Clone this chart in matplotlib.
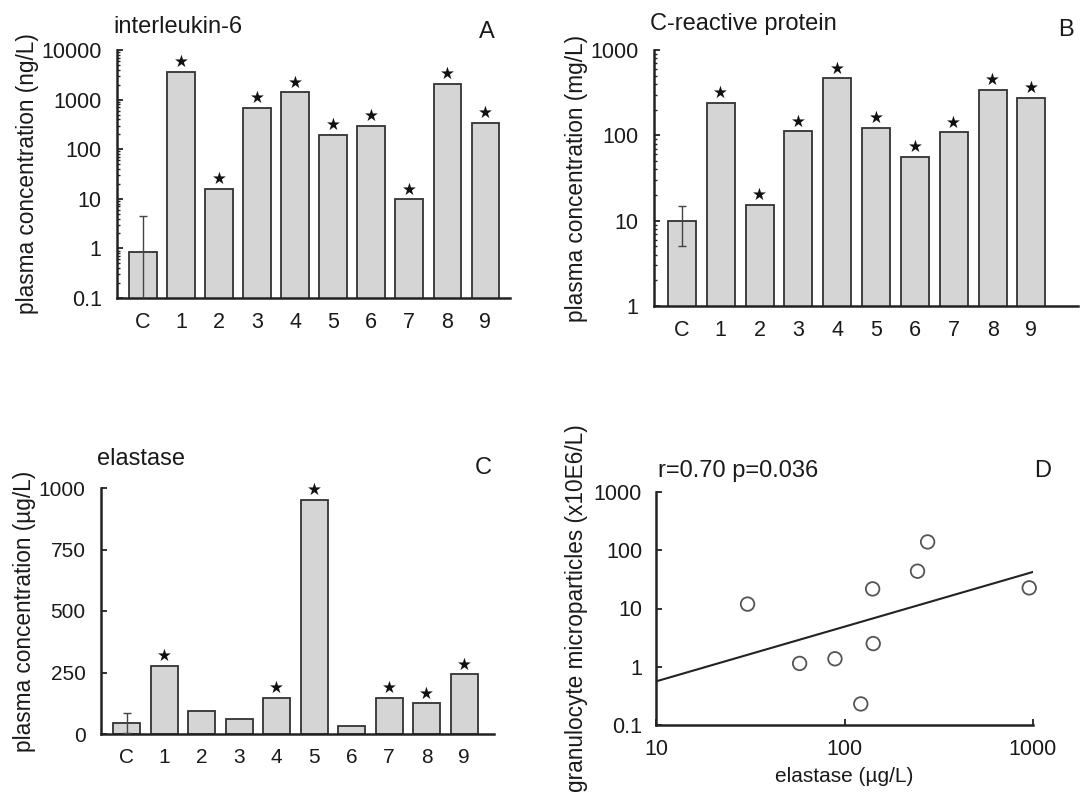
import numpy as np
import matplotlib
matplotlib.use('Agg')
import matplotlib.pyplot as plt
from matplotlib.ticker import LogLocator, FuncFormatter, NullLocator, FixedLocator

plt.rcParams['font.family'] = ['Liberation Sans', 'DejaVu Sans']

# --- data ---
groups = ['C', '1', '2', '3', '4', '5', '6', '7', '8', '9']

il6 = [0.86, 3670, 15.9, 684, 1413, 196, 293, 9.7, 2077, 337]
il6_err = [3.6, 0, 0, 0, 0, 0, 0, 0, 0, 0]
il6_star = [False, True, True, True, True, True, True, True, True, True]

crp = [10, 242, 15.4, 111, 464, 122, 55.6, 109, 344, 277]
crp_err = [5, 0, 0, 0, 0, 0, 0, 0, 0, 0]
crp_star = [False, True, True, True, True, True, True, True, True, True]

elastase = [45, 277, 92, 61, 146, 951, 31, 146, 125, 243]
elastase_err = [40, 0, 0, 0, 0, 0, 0, 0, 0, 0]
elastase_star = [False, True, False, False, True, True, False, True, True, True]

# panel D: elastase vs granulocyte microparticles
scatter_elastase = [30.6, 57.8, 89, 122, 141, 142, 244, 276, 955]
scatter_gmp = [11.9, 1.14, 1.37, 0.23, 21.7, 2.5, 43.7, 139, 22.6]

BAR_FACE = '#d5d5d5'
BAR_EDGE = '#333333'
TXT = '#1a1a1a'
W, H = 1080, 794
TICK_FS = 15.5
TITLE_FS = 17
YLABEL_FS = 16.3


def px_rect(left, top, right, bottom):
    return [left / W, 1 - bottom / H, (right - left) / W, (bottom - top) / H]


def style_axes(ax, fs=TICK_FS):
    for s in ['top', 'right']:
        ax.spines[s].set_visible(False)
    for s in ['left', 'bottom']:
        ax.spines[s].set_linewidth(1.8)
        ax.spines[s].set_color('#222222')
    ax.tick_params(axis='both', which='major', direction='in', length=4, width=1.3,
                   labelsize=fs, colors='#222222', labelcolor=TXT)
    ax.tick_params(axis='both', which='minor', direction='in', length=2.5, width=1.0,
                   colors='#222222')


def bar_panel(ax, values, errs, stars, ylabel, log=True, xlim=(-0.68, 9.65), fs=TICK_FS):
    x = np.arange(len(groups))
    ax.bar(x, values, width=0.72, color=BAR_FACE, edgecolor=BAR_EDGE, linewidth=1.3, zorder=2)
    ax.errorbar(x[0], values[0], yerr=errs[0], fmt='none', ecolor='#444444',
                elinewidth=1.0, capsize=3, capthick=1.0, zorder=3)
    for xi, v, s in zip(x, values, stars):
        if s:
            ax.annotate('★', (xi, v), xytext=(0, 0.5), textcoords='offset points',
                        ha='center', va='bottom', fontsize=12, color='#111111',
                        family='DejaVu Sans')
    if log:
        ax.set_yscale('log')
        ax.yaxis.set_major_locator(LogLocator(base=10))
        ax.yaxis.set_minor_locator(LogLocator(base=10, subs=np.arange(2, 10)))
        ax.yaxis.set_major_formatter(FuncFormatter(lambda v, p: '%g' % v))
    ax.set_xticks(x)
    ax.set_xticklabels(groups)
    ax.set_xlim(*xlim)
    ax.set_ylabel(ylabel, fontsize=YLABEL_FS, color=TXT, labelpad=2)
    style_axes(ax, fs)
    ax.tick_params(axis='x', which='both', length=0, pad=10)
    ax.tick_params(axis='y', which='major', pad=11)


fig = plt.figure(figsize=(10.8, 7.94), dpi=100)

# A: interleukin-6
axA = fig.add_axes(px_rect(117, 50, 510, 298))
bar_panel(axA, il6, il6_err, il6_star, 'plasma concentration (ng/L)')
axA.set_ylim(0.1, 10000)
fig.text(113 / W, 1 - 27 / H, 'interleukin-6', fontsize=TITLE_FS, color=TXT, va='center', ha='left')
fig.text(487 / W, 1 - 32 / H, 'A', fontsize=TITLE_FS, color=TXT, va='center', ha='center')

# B: C-reactive protein
axB = fig.add_axes(px_rect(654, 50, 1078, 306))
bar_panel(axB, crp, crp_err, crp_star, 'plasma concentration (mg/L)', xlim=(-0.72, 10.2))
axB.set_ylim(1, 1000)
fig.text(650 / W, 1 - 24 / H, 'C-reactive protein', fontsize=TITLE_FS, color=TXT, va='center', ha='left')
fig.text(1066 / W, 1 - 30 / H, 'B', fontsize=TITLE_FS, color=TXT, va='center', ha='center')

# C: elastase
axC = fig.add_axes(px_rect(101, 488, 494, 734))
bar_panel(axC, elastase, elastase_err, elastase_star, 'plasma concentration (µg/L)',
          log=False, xlim=(-0.69, 9.8), fs=15)
axC.set_ylim(0, 1000)
axC.set_yticks([0, 250, 500, 750, 1000])
fig.text(97 / W, 1 - 459 / H, 'elastase', fontsize=TITLE_FS, color=TXT, va='center', ha='left')
fig.text(483 / W, 1 - 468 / H, 'C', fontsize=TITLE_FS, color=TXT, va='center', ha='center')

# D: scatter with log-log regression
axD = fig.add_axes(px_rect(656, 492, 1033, 725))
axD.set_xscale('log')
axD.set_yscale('log')
axD.scatter(scatter_elastase, scatter_gmp, s=95, facecolors='none', edgecolors='#555555',
            linewidths=1.3, zorder=3, clip_on=False)
lx = np.log10(scatter_elastase)
ly = np.log10(scatter_gmp)
slope, intercept = np.polyfit(lx, ly, 1)
xfit = np.array([10, 1000])
axD.plot(xfit, 10 ** (intercept + slope * np.log10(xfit)), color='#222222', lw=1.5, zorder=2)
axD.set_xlim(10, 1000)
axD.set_ylim(0.1, 1000)
axD.xaxis.set_major_locator(FixedLocator([10, 100, 1000]))
axD.yaxis.set_major_locator(FixedLocator([0.1, 1, 10, 100, 1000]))
axD.xaxis.set_minor_locator(NullLocator())
axD.yaxis.set_minor_locator(NullLocator())
fmt = FuncFormatter(lambda v, p: '%g' % v)
axD.xaxis.set_major_formatter(fmt)
axD.yaxis.set_major_formatter(fmt)
style_axes(axD, 15.5)
axD.tick_params(axis='x', which='major', pad=10)
axD.tick_params(axis='y', which='major', pad=10)
axD.set_xlabel('elastase (µg/L)', fontsize=15, color=TXT, labelpad=5)
axD.set_ylabel('granulocyte microparticles (x10E6/L)', fontsize=YLABEL_FS, color=TXT, labelpad=4)
fig.text(658 / W, 1 - 471 / H, 'r=0.70 p=0.036', fontsize=TITLE_FS, color=TXT, va='center', ha='left')
fig.text(1043 / W, 1 - 471 / H, 'D', fontsize=TITLE_FS, color=TXT, va='center', ha='center')

fig.savefig('out.png', dpi=100)
